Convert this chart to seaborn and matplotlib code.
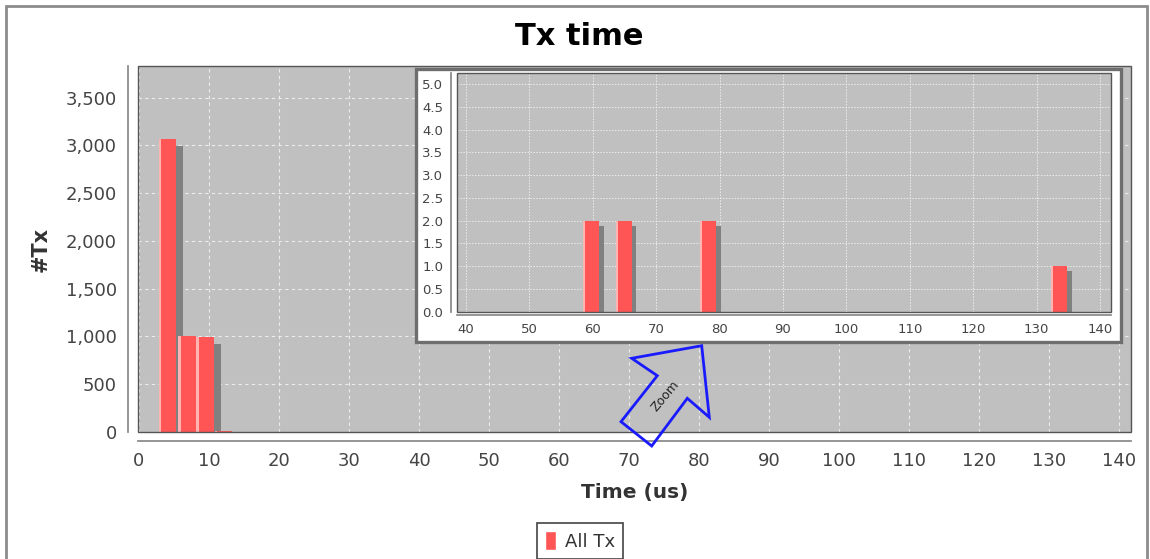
import numpy as np
import pandas as pd
import matplotlib
matplotlib.use("Agg")
import matplotlib.pyplot as plt
import matplotlib.transforms as mtransforms
from matplotlib.patches import Rectangle, Polygon, Patch
from matplotlib.ticker import FuncFormatter, MultipleLocator
import seaborn as sns

# bin centres (us) and number of transactions in each bin
bin_centres = [4.1, 6.85, 9.45, 12.1, 59.75, 64.9, 78.2, 133.55]
tx_counts = [3070, 1000, 990, 15, 2, 2, 2, 1]
bin_width = 2.5
series_name = 'All Tx'

W, H, DPI = 1150, 559, 100
RED = '#ff5555'
LIGHT = '#ffb4b4'
SHADOW = '#808080'


def fx(px):
	return px / W


def fy(py):
	return 1 - py / H


df = pd.DataFrame({'time': bin_centres, 'count': tx_counts})
c = np.array(bin_centres)
edges = [float(e) for e in np.unique(np.concatenate([c - bin_width / 2, c + bin_width / 2]))]

sns.set_theme(style='whitegrid', rc={
	'axes.facecolor': '#c0c0c0',
	'grid.color': '#f4f4f4',
	'grid.linestyle': (0, (3, 3)),
	'grid.linewidth': 0.8,
	'grid.alpha': 0.85,
	'axes.edgecolor': '#888888',
})
plt.rcParams['font.family'] = ['DejaVu Sans']

fig = plt.figure(figsize=(W / DPI, H / DPI), dpi=DPI)


def draw_hist(ax, shadow_px):
	# shadow first, shifted right/down like the java chart renderer
	sns.histplot(data=df, x='time', weights='count', bins=edges, ax=ax,
				 color=SHADOW, alpha=1, linewidth=0, legend=False)
	off = mtransforms.ScaledTranslation(shadow_px[0] / DPI, -shadow_px[1] / DPI, fig.dpi_scale_trans)
	shadows = list(ax.patches)
	for p in shadows:
		p.set_transform(ax.transData + off)
	sns.histplot(data=df, x='time', weights='count', bins=edges, ax=ax,
				 color=RED, alpha=1, linewidth=0, legend=False)
	for p in ax.patches[len(shadows):]:
		if p.get_height() > 0:
			ax.add_patch(Rectangle((p.get_x(), 0), p.get_width() * 0.14, p.get_height(),
								   facecolor=LIGHT, linewidth=0, zorder=p.get_zorder()))
	ax.set_xlabel('')
	ax.set_ylabel('')
	ax.add_patch(Rectangle((0, 0), 1, 1, transform=ax.transAxes, facecolor='none',
						   edgecolor='#555555', linewidth=1, zorder=5, clip_on=False))
	for s in ['top', 'right']:
		ax.spines[s].set_visible(False)


# main chart
ax = fig.add_axes([fx(138), fy(432), fx(1131) - fx(138), fy(66) - fy(432)], zorder=0)
draw_hist(ax, (7, 7))
ax.set_xlim(-0.14, 141.7)
ax.set_ylim(0, 3832)
ax.xaxis.set_major_locator(MultipleLocator(10))
ax.yaxis.set_major_locator(MultipleLocator(500))
ax.yaxis.set_major_formatter(FuncFormatter(lambda v, _: f'{int(v):,}'))
ax.spines['left'].set_position(('outward', 7.2))
ax.spines['bottom'].set_position(('outward', 6.5))
ax.tick_params(axis='both', direction='out', length=3, width=1, color='#888888',
			   labelsize=13, labelcolor='#444444', pad=5)
ax.grid(True)
ax.set_xlabel('Time (us)', fontsize=14.5, fontweight='bold', color='#333333')
ax.set_ylabel('#Tx', fontsize=15, fontweight='bold', color='#333333')
ax.xaxis.set_label_coords(0.5, -0.14)
ax.yaxis.set_label_coords(-0.088, 0.5)

# white panel for the zoomed view
fig.patches.append(Rectangle((fx(416.5), fy(342)), fx(1121) - fx(416.5), fy(68.5) - fy(342),
							 transform=fig.transFigure, facecolor='white', edgecolor='#6e6e6e',
							 linewidth=2.4, zorder=1))

# zoomed inset
axi = fig.add_axes([fx(457), fy(311.7), fx(1111.4) - fx(457), fy(73.3) - fy(311.7)], zorder=2)
draw_hist(axi, (4.5, 5))
axi.set_xlim(38.6, 141.8)
axi.set_ylim(0, 5.24)
axi.xaxis.set_major_locator(MultipleLocator(10))
axi.yaxis.set_major_locator(MultipleLocator(0.5))
axi.yaxis.set_major_formatter(FuncFormatter(lambda v, _: f'{v:.1f}'))
axi.spines['left'].set_position(('outward', 4.3))
axi.spines['bottom'].set_position(('outward', 2.3))
axi.tick_params(axis='both', direction='out', length=2, width=1, color='#888888',
				labelsize=9.5, labelcolor='#444444', pad=3.5)
axi.grid(True, linestyle=(0, (1.5, 1.5)), linewidth=0.7)

# "Zoom" arrow pointing at the inset
arrow_px = [(631.7, 358.3), (701.7, 345.7), (709.3, 417.3), (687.3, 398.3),
			(651.7, 446), (621, 421.7), (657.3, 375.7)]
fig.patches.append(Polygon([(fx(x), fy(y)) for x, y in arrow_px], closed=True,
						   transform=fig.transFigure, facecolor='none', edgecolor='#1a1aff',
						   linewidth=2, zorder=3))
fig.text(fx(665.5), fy(396.5), 'Zoom', rotation=50, rotation_mode='anchor',
		 ha='center', va='center', fontsize=9, color='#222222', zorder=4)

# title, legend and outer frame
fig.text(fx(579), fy(45), 'Tx time', ha='center', va='baseline',
		 fontsize=22, fontweight='bold', color='black')
leg = fig.legend(handles=[Patch(facecolor=RED, label=series_name)], loc='upper center',
				 bbox_to_anchor=(fx(580), fy(523)), frameon=True, fancybox=False,
				 facecolor='white', edgecolor='#444444', framealpha=1, borderaxespad=0,
				 fontsize=13, handlelength=0.6, handleheight=1.25, handletextpad=0.5,
				 borderpad=0.45)
leg.get_frame().set_linewidth(1.2)
for t in leg.get_texts():
	t.set_color('#333333')
fig.patches.append(Rectangle((fx(6), fy(620)), fx(1147) - fx(6), fy(6) - fy(620),
							 transform=fig.transFigure, facecolor='none', edgecolor='#8c8c8c',
							 linewidth=2, zorder=0))

plt.savefig('out.png', dpi=DPI)
plt.close('all')
